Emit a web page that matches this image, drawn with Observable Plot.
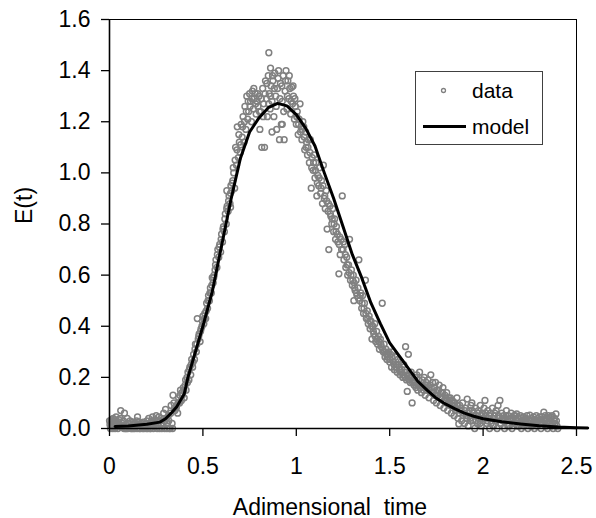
<!DOCTYPE html>
<html>
<head>
<meta charset="utf-8">
<script src="https://cdn.jsdelivr.net/npm/d3@7"></script>
<script src="https://cdn.jsdelivr.net/npm/@observablehq/plot@0.6"></script>
<style>
  html, body { margin: 0; padding: 0; background: #fff; }
  #wrap { position: relative; width: 596px; height: 518px; font-family: "Liberation Sans", Arial, sans-serif; }
  #legend { position: absolute; left: 415px; top: 71px; width: 126px; height: 72px; border: 1px solid #404040; background: #fff; }
  #legend svg { display: block; }
</style>
</head>
<body>
<div id="wrap"></div>
<script>
// ---- tick labels / axis titles ----
const xTicks = [0, 0.5, 1, 1.5, 2, 2.5];
const yTicks = [0, 0.2, 0.4, 0.6, 0.8, 1.0, 1.2, 1.4, 1.6];
const xLabel = "Adimensional\u00a0\u00a0time";
const yLabel = "E(t)";
const seriesNames = ["data", "model"];

// ---- model curve ----
const modelT = [0.03,0.1,0.2,0.27,0.3,0.33,0.36,0.4,0.42,0.45,0.5,0.55,0.6,0.65,0.7,0.75,0.8,0.85,0.9,0.95,1.0,1.05,1.1,1.15,1.2,1.25,1.3,1.35,1.4,1.45,1.5,1.55,1.6,1.65,1.7,1.75,1.8,1.85,1.9,1.95,2.0,2.1,2.2,2.3,2.4,2.5,2.56];
const modelE = [0.008,0.010,0.017,0.025,0.038,0.06,0.085,0.135,0.2,0.275,0.40,0.535,0.715,0.895,1.055,1.16,1.215,1.255,1.272,1.262,1.228,1.175,1.105,1.00,0.90,0.79,0.68,0.59,0.49,0.41,0.335,0.285,0.235,0.185,0.15,0.118,0.095,0.077,0.06,0.048,0.038,0.026,0.018,0.011,0.006,0.003,0.002];

const segLow = [[0.00,0.03],[0.005,0.00],[0.01,0.01],[0.012,0.035],[0.015,0.025],[0.02,0.04],[0.022,0.005],[0.025,0.02],[0.03,0.00],[0.032,0.03],[0.035,0.045],[0.04,0.02],[0.042,0.01],[0.045,0.00],[0.05,0.035],[0.055,0.015],[0.06,0.07],[0.065,0.005],[0.07,0.01],[0.075,0.03],[0.08,0.06],[0.085,0.00],[0.09,0.00],[0.095,0.04],[0.10,0.02],[0.105,0.005],[0.11,0.03],[0.115,0.00],[0.12,0.00],[0.125,0.025],[0.13,0.015],[0.135,0.00],[0.14,0.01],[0.145,0.03],[0.15,0.045],[0.155,0.015],[0.16,0.00],[0.165,0.00],[0.17,0.02],[0.175,0.01],[0.18,0.025],[0.185,0.00],[0.19,0.005],[0.195,0.02],[0.20,0.03],[0.205,0.00],[0.21,0.04],[0.215,0.015],[0.22,0.00],[0.225,0.03],[0.23,0.045],[0.235,0.00],[0.24,0.02],[0.245,0.035],[0.25,0.05],[0.255,0.00],[0.26,0.01],[0.265,0.045],[0.27,0.03],[0.275,0.015],[0.28,0.00],[0.285,0.035],[0.29,0.06],[0.295,0.00],[0.30,0.075],[0.305,0.04],[0.31,0.02],[0.315,0.05],[0.32,0.00],[0.325,0.00],[0.33,0.09],[0.335,0.02],[0.34,0.13],[0.345,0.10],[0.35,0.07],
  [0.0025,0.015],[0.0075,0.03],[0.0175,0.00],[0.0275,0.035],[0.0375,0.01],[0.0475,0.025],[0.0575,0.04],[0.0675,0.02],[0.0775,0.00],[0.0875,0.015],[0.0975,0.00],[0.1075,0.02],[0.1175,0.01],[0.1275,0.00],[0.1375,0.02],[0.1475,0.00],[0.1575,0.025],[0.1675,0.01],[0.1775,0.00],[0.1875,0.015],[0.1975,0.00],[0.2075,0.02],[0.2175,0.00],[0.2275,0.01],[0.2375,0.025],[0.2475,0.01],[0.2575,0.03],[0.2675,0.00],[0.2775,0.04],[0.2875,0.01],[0.2975,0.03],[0.3075,0.00],[0.3175,0.03],[0.3275,0.06],[0.3375,0.00],[0.3475,0.08]];
const segRise = [[0.36,0.09],[0.365,0.06],[0.37,0.12],[0.375,0.10],[0.38,0.15],[0.385,0.11],[0.39,0.13],[0.395,0.16],[0.40,0.12],[0.405,0.17],[0.41,0.15],[0.415,0.20],[0.42,0.22],[0.425,0.19],[0.43,0.24],[0.435,0.21],[0.44,0.27],[0.445,0.24],[0.45,0.29],[0.455,0.27],[0.46,0.33],[0.465,0.30],[0.47,0.43],[0.475,0.35],[0.48,0.37],[0.485,0.34],[0.49,0.39],[0.495,0.40],[0.50,0.44],[0.505,0.41],[0.51,0.45],[0.515,0.43],[0.52,0.49],[0.525,0.47],[0.53,0.52],[0.535,0.50],[0.54,0.55],[0.545,0.53],[0.55,0.59],[0.555,0.57],[0.56,0.60],[0.565,0.62],[0.57,0.66],[0.575,0.63],[0.58,0.70],[0.585,0.67],[0.59,0.72],[0.595,0.69],[0.60,0.76],[0.605,0.73],[0.61,0.79],[0.615,0.77],[0.62,0.84],[0.625,0.80],[0.628,0.93],[0.63,0.87],[0.635,0.85],[0.64,0.91],[0.645,0.88],[0.648,0.866],[0.65,0.95],[0.655,0.93],
  [0.3575,0.08],[0.3675,0.10],[0.3775,0.13],[0.3875,0.14],[0.3975,0.15],[0.4075,0.19],[0.4175,0.18],[0.4275,0.23],[0.4375,0.25],[0.4475,0.26],[0.4575,0.31],[0.4675,0.33],[0.4775,0.36],[0.4875,0.38],[0.4975,0.42],[0.5075,0.43],[0.5175,0.46],[0.5275,0.50],[0.5375,0.53],[0.5475,0.56],[0.5575,0.59],[0.5675,0.64],[0.5775,0.68],[0.5875,0.71],[0.5975,0.74],[0.6075,0.78],[0.6175,0.82],[0.6275,0.86],[0.6375,0.89],[0.6475,0.92],[0.6575,0.96]];
const segPeak = [[0.66,0.97],[0.665,1.00],[0.67,0.94],[0.675,1.10],[0.68,1.03],[0.684,1.18],[0.69,1.06],[0.695,1.12],[0.70,1.08],[0.705,1.19],[0.71,1.14],[0.715,1.22],[0.72,1.12],[0.725,1.26],[0.73,1.17],[0.735,1.30],[0.74,1.21],[0.745,1.24],[0.75,1.31],[0.755,1.28],[0.76,1.20],[0.765,1.32],[0.77,1.25],[0.775,1.29],[0.78,1.31],[0.785,1.23],[0.79,1.28],[0.795,1.26],[0.80,1.30],[0.805,1.17],[0.81,1.24],[0.815,1.10],[0.82,1.33],[0.825,1.27],[0.83,1.10],[0.835,1.36],[0.84,1.29],[0.845,1.22],[0.85,1.38],[0.853,1.47],[0.855,1.31],[0.86,1.25],[0.862,1.41],[0.865,1.34],[0.87,1.28],[0.875,1.36],[0.88,1.22],[0.885,1.39],[0.89,1.30],[0.895,1.17],[0.90,1.33],[0.905,1.40],[0.91,1.13],[0.915,1.35],[0.92,1.19],[0.925,1.28],[0.93,1.38],[0.935,1.13],[0.94,1.32],[0.945,1.40],[0.95,1.25],[0.955,1.36],[0.96,1.29],[0.965,1.33],[0.97,1.23],[0.975,1.335],[0.98,1.27],[0.985,1.30],[0.99,1.21],[0.995,1.26],
  [0.6625,1.02],[0.6725,1.05],[0.6825,1.09],[0.6925,1.15],[0.7025,1.11],[0.7125,1.18],[0.7225,1.20],[0.7325,1.24],[0.7425,1.28],[0.7525,1.26],[0.7625,1.29],[0.7725,1.33],[0.7825,1.27],[0.7925,1.31],[0.8025,1.24],[0.8125,1.29],[0.8225,1.22],[0.8325,1.31],[0.8425,1.35],[0.8525,1.27],[0.8625,1.30],[0.8725,1.38],[0.8825,1.33],[0.8925,1.26],[0.9025,1.37],[0.9125,1.29],[0.9225,1.34],[0.9325,1.24],[0.9425,1.36],[0.9525,1.30],[0.9625,1.38],[0.9725,1.28],[0.9825,1.34],[0.9925,1.29],[0.87,1.16],[0.925,1.19]];
const segFall = [[1.00,1.19],[1.005,1.24],[1.01,1.15],[1.015,1.21],[1.02,1.27],[1.025,1.18],[1.03,1.13],[1.035,1.20],[1.04,1.18],[1.045,1.09],[1.05,1.16],[1.055,1.12],[1.06,1.07],[1.065,1.13],[1.07,1.04],[1.075,1.13],[1.08,0.94],[1.085,1.06],[1.09,1.01],[1.095,1.07],[1.10,0.98],[1.105,1.04],[1.11,0.91],[1.115,0.99],[1.12,0.95],[1.125,1.02],[1.13,0.92],[1.135,0.97],[1.14,0.88],[1.145,1.03],[1.15,0.90],[1.155,0.86],[1.16,0.93],[1.165,0.78],[1.17,0.85],[1.174,0.70],[1.18,0.87],[1.185,0.83],[1.19,0.80],[1.195,0.86],[1.20,0.77],[1.205,0.82],[1.21,0.74],[1.215,0.79],[1.22,0.76],[1.228,0.605],[1.23,0.72],[1.235,0.68],[1.24,0.74],[1.246,0.91],[1.25,0.70],[1.255,0.66],[1.26,0.72],[1.265,0.63],[1.27,0.67],[1.275,0.60],[1.28,0.64],[1.285,0.74],[1.29,0.58],[1.295,0.62],[1.30,0.56],[1.305,0.60],[1.308,0.50],[1.31,0.57],[1.315,0.54],[1.32,0.58],[1.325,0.52],[1.33,0.55],[1.335,0.66],[1.34,0.50],[1.345,0.53],[1.35,0.47],[1.355,0.52],[1.36,0.45],[1.365,0.49],[1.37,0.58],[1.375,0.43],[1.38,0.46],[1.385,0.41],[1.39,0.44],[1.395,0.39],[1.40,0.42],[1.405,0.35],[1.41,0.40],[1.415,0.37],[1.42,0.41],[1.425,0.34],[1.43,0.38],[1.435,0.33],[1.44,0.36],[1.445,0.31],[1.45,0.35],[1.455,0.32],[1.46,0.49],[1.465,0.30],[1.47,0.33],[1.475,0.28],[1.48,0.31],[1.485,0.27],[1.49,0.29],[1.495,0.30],[1.50,0.26],
  [1.0025,1.22],[1.0125,1.19],[1.0225,1.16],[1.0325,1.17],[1.0425,1.14],[1.0525,1.10],[1.0625,1.10],[1.0725,1.08],[1.0825,1.02],[1.0925,1.04],[1.1025,1.01],[1.1125,0.96],[1.1225,0.98],[1.1325,0.94],[1.1425,0.95],[1.1525,0.91],[1.1625,0.89],[1.1725,0.88],[1.1825,0.84],[1.1925,0.82],[1.2025,0.80],[1.2125,0.77],[1.2225,0.73],[1.2325,0.75],[1.2425,0.70],[1.2525,0.73],[1.2625,0.68],[1.2725,0.64],[1.2825,0.61],[1.2925,0.60],[1.3025,0.58],[1.3125,0.55],[1.3225,0.53],[1.3325,0.51],[1.3425,0.52],[1.3525,0.49],[1.3625,0.47],[1.3725,0.45],[1.3825,0.43],[1.3925,0.42],[1.4025,0.40],[1.4125,0.38],[1.4225,0.36],[1.4325,0.35],[1.4425,0.34],[1.4525,0.33],[1.4625,0.31],[1.4725,0.30],[1.4825,0.29],[1.4925,0.28]];
const segTail = [[1.505,0.29],[1.51,0.24],[1.515,0.30],[1.52,0.26],[1.525,0.23],[1.53,0.28],[1.535,0.25],[1.54,0.22],[1.545,0.27],[1.55,0.24],[1.555,0.21],[1.56,0.26],[1.565,0.23],[1.57,0.20],[1.575,0.25],[1.58,0.22],[1.585,0.32],[1.59,0.19],[1.594,0.145],[1.60,0.29],[1.605,0.21],[1.61,0.18],[1.615,0.22],[1.62,0.10],[1.625,0.19],[1.63,0.17],[1.635,0.20],[1.64,0.16],[1.645,0.21],[1.65,0.15],[1.655,0.19],[1.66,0.22],[1.665,0.17],[1.67,0.14],[1.675,0.19],[1.68,0.16],[1.685,0.20],[1.69,0.13],[1.695,0.18],[1.70,0.15],[1.705,0.19],[1.71,0.12],[1.715,0.17],[1.72,0.21],[1.725,0.14],[1.73,0.18],[1.735,0.11],[1.74,0.16],[1.745,0.18],[1.75,0.10],[1.755,0.15],[1.76,0.13],[1.765,0.17],[1.77,0.09],[1.775,0.14],[1.78,0.12],[1.785,0.16],[1.79,0.08],[1.795,0.13],[1.80,0.11],[1.805,0.14],[1.81,0.07],[1.815,0.12],[1.82,0.10],[1.825,0.12],[1.83,0.06],[1.835,0.11],[1.84,0.09],[1.845,0.05],[1.85,0.10],[1.855,0.08],[1.86,0.12],[1.865,0.04],[1.87,0.018],[1.875,0.09],[1.88,0.07],[1.885,0.03],[1.89,0.10],[1.895,0.06],[1.90,0.02],[1.905,0.08],[1.91,0.05],[1.915,0.115],[1.92,0.01],[1.925,0.07],[1.93,0.04],[1.935,0.09],[1.94,0.10],[1.945,0.03],[1.95,0.06],[1.955,0.00],[1.96,0.08],[1.965,0.05],[1.97,0.02],[1.975,0.07],[1.98,0.04],[1.985,0.09],[1.99,0.01],[1.995,0.06],[2.00,0.03],[2.005,0.08],[2.01,0.11],[2.015,0.05],[2.02,0.02],[2.025,0.07],[2.03,0.04],[2.035,0.00],[2.04,0.06],[2.045,0.03],[2.05,0.08],[2.055,0.01],[2.06,0.05],[2.065,0.03],[2.07,0.07],[2.075,0.00],[2.08,0.09],[2.085,0.04],[2.09,0.11],[2.095,0.02],[2.10,0.06],[2.105,0.03],[2.11,0.05],[2.115,0.00],[2.12,0.04],[2.125,0.07],[2.13,0.02],[2.135,0.05],[2.14,0.01],[2.145,0.04],[2.15,0.06],[2.155,0.00],[2.16,0.03],[2.165,0.05],[2.17,0.02],[2.175,0.04],[2.18,0.057],[2.185,0.01],[2.19,0.04],[2.195,0.02],[2.20,0.05],[2.205,0.00],[2.21,0.03],[2.215,0.045],[2.22,0.01],[2.225,0.035],[2.23,0.02],[2.235,0.05],[2.24,0.00],[2.245,0.03],[2.25,0.052],[2.255,0.01],[2.26,0.04],[2.265,0.02],[2.27,0.045],[2.275,0.00],[2.28,0.03],[2.285,0.05],[2.29,0.01],[2.295,0.04],[2.30,0.02],[2.305,0.035],[2.31,0.00],[2.315,0.045],[2.32,0.02],[2.325,0.064],[2.33,0.03],[2.335,0.01],[2.34,0.04],[2.345,0.00],[2.35,0.05],[2.355,0.02],[2.36,0.03],[2.365,0.01],[2.37,0.05],[2.375,0.00],[2.38,0.03],[2.385,0.02],[2.39,0.057],[2.395,0.01],[2.40,0.00],
  [1.5025,0.27],[1.5125,0.28],[1.5225,0.25],[1.5325,0.24],[1.5425,0.25],[1.5525,0.23],[1.5625,0.22],[1.5725,0.21],[1.5825,0.20],[1.5925,0.21],[1.6025,0.19],[1.6125,0.20],[1.6225,0.18],[1.6325,0.18],[1.6425,0.17],[1.6525,0.17],[1.6625,0.16],[1.6725,0.17],[1.6825,0.15],[1.6925,0.16],[1.7025,0.17],[1.7125,0.15],[1.7225,0.16],[1.7325,0.14],[1.7425,0.13],[1.7525,0.14],[1.7625,0.15],[1.7725,0.12],[1.7825,0.14],[1.7925,0.11],[1.8025,0.12],[1.8125,0.10],[1.8225,0.11],[1.8325,0.09],[1.8425,0.10],[1.8525,0.07],[1.8625,0.09],[1.8725,0.06],[1.8825,0.08],[1.8925,0.05],[1.9025,0.07],[1.9125,0.04],[1.9225,0.06],[1.9325,0.03],[1.9425,0.07],[1.9525,0.05],[1.9625,0.03],[1.9725,0.06],[1.9825,0.02],[1.9925,0.05],[2.0025,0.04],[2.0125,0.06],[2.0225,0.03],[2.0325,0.05],[2.0425,0.02],[2.0525,0.04],[2.0625,0.06],[2.0725,0.03],[2.0825,0.05],[2.0925,0.02],[2.1025,0.04],[2.1125,0.03],[2.1225,0.05],[2.1325,0.01],[2.1425,0.03],[2.1525,0.04],[2.1625,0.02],[2.1725,0.05],[2.1825,0.03],[2.1925,0.01],[2.2025,0.04],[2.2125,0.02],[2.2225,0.03],[2.2325,0.04],[2.2425,0.02],[2.2525,0.03],[2.2625,0.01],[2.2725,0.035],[2.2825,0.02],[2.2925,0.03],[2.3025,0.045],[2.3125,0.02],[2.3225,0.035],[2.3325,0.05],[2.3425,0.02],[2.3525,0.04],[2.3625,0.045],[2.3725,0.02],[2.3825,0.04],[2.3925,0.03]];

const data = [...segLow, ...segRise, ...segPeak, ...segFall, ...segTail].map(([t, E]) => ({t, E}));
const model = modelT.map((t, i) => ({t, E: modelE[i]}));

const FONT = "'Liberation Sans', Arial, sans-serif";

const chart = Plot.plot({
  width: 596,
  height: 518,
  marginLeft: 109,
  marginRight: 20,
  marginTop: 19,
  marginBottom: 90,
  style: { fontFamily: FONT, fontSize: "23px", background: "white", color: "black", overflow: "visible" },
  x: { domain: [0, 2.5], label: null },
  y: { domain: [0, 1.6], label: null },
  marks: [
    Plot.frame({ stroke: "black", strokeWidth: 1 }),
    Plot.dot(data, { x: "t", y: "E", r: 2.9, stroke: "#808080", strokeWidth: 1.5, fill: "none" }),
    Plot.line(model, { x: "t", y: "E", stroke: "black", strokeWidth: 3 }),
    Plot.ruleX([0], { stroke: "black", strokeWidth: 1.6 }),
    Plot.ruleY([0], { stroke: "black", strokeWidth: 1.6 }),
    Plot.axisX({ ticks: xTicks, tickFormat: d => String(d), tickSize: 8, tickPadding: 21, strokeWidth: 1.3, label: null, fontSize: 23 }),
    Plot.axisY({ ticks: yTicks, tickFormat: d3.format(".1f"), tickSize: 8, tickPadding: 11, strokeWidth: 1.3, label: null, fontSize: 23 }),
    Plot.text([xLabel], { frameAnchor: "bottom", text: d => d, dx: -13, dy: 86, lineAnchor: "bottom", fontSize: 23 }),
    Plot.text([yLabel], { frameAnchor: "left", text: d => d, rotate: -90, dx: -85, fontSize: 23 })
  ]
});

const wrap = document.getElementById("wrap");
wrap.appendChild(chart);

// ---- legend ----
const legend = document.createElement("div");
legend.id = "legend";
legend.innerHTML = `
<svg width="126" height="72" xmlns="http://www.w3.org/2000/svg" style="font-family:${FONT.replace(/'/g, "")};font-size:21px">
  <circle cx="27.5" cy="18.5" r="2" fill="none" stroke="#808080" stroke-width="1.3"></circle>
  <text x="56" y="25.5" fill="black">${seriesNames[0]}</text>
  <line x1="7" x2="50" y1="54.5" y2="54.5" stroke="black" stroke-width="3"></line>
  <text x="56" y="61.5" fill="black">${seriesNames[1]}</text>
</svg>`;
wrap.appendChild(legend);
</script>
</body>
</html>
